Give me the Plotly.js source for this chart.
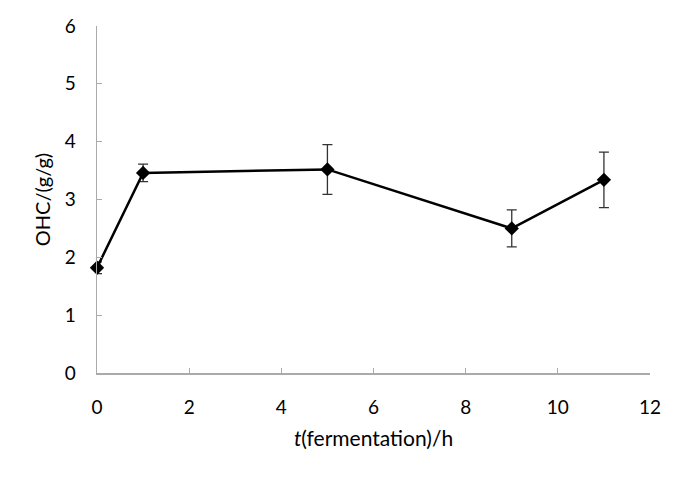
<!DOCTYPE html>
<html><head><meta charset="utf-8">
<script src="https://cdn.plot.ly/plotly-3.0.1.min.js"></script>
<style>html,body{margin:0;padding:0;background:#fff}#chart{width:687px;height:480px}</style>
</head><body><div id="chart"></div>
<script>
const timeH = [0, 1, 5, 9, 11];
const ohc = [1.82, 3.46, 3.52, 2.50, 3.34];
const ohcErr = [0.10, 0.15, 0.43, 0.32, 0.48];
const xTicks = [0, 2, 4, 6, 8, 10, 12];
const yTicks = [0, 1, 2, 3, 4, 5, 6];

const font = 'Lato, Noto Sans, sans-serif';
Plotly.newPlot('chart', [{
  x: timeH, y: ohc, type: 'scatter', mode: 'lines+markers',
  line: {color: '#000', width: 2.5},
  marker: {symbol: 'diamond', size: 11, color: '#000'},
  error_y: {type: 'data', array: ohcErr, visible: true, color: '#333', thickness: 1.3, width: 5},
  cliponaxis: false
}], {
  width: 687, height: 480,
  margin: {l: 97, r: 37, t: 26, b: 107},
  paper_bgcolor: '#fff', plot_bgcolor: '#fff',
  showlegend: false,
  xaxis: {range: [0, 12], tickvals: xTicks, ticks: 'inside', ticklen: 5, tickcolor: '#aaa',
    showline: true, linecolor: '#aaa', linewidth: 1.5, showgrid: false, zeroline: false,
    ticklabelstandoff: 17,
    tickfont: {family: font, size: 19, color: '#000'},
    title: {text: '<i>t</i>(fermentation)/h', font: {family: font, size: 21, color: '#000'}, standoff: 14}},
  yaxis: {range: [0, 6], tickvals: yTicks, ticks: 'inside', ticklen: 5, tickcolor: '#aaa',
    showline: true, linecolor: '#aaa', linewidth: 1.5, showgrid: false, zeroline: false,
    ticklabelstandoff: 16,
    tickfont: {family: font, size: 19, color: '#000'},
    title: {text: 'OHC/(g/g)', font: {family: font, size: 20, color: '#000'}, standoff: 8}}
}, {displayModeBar: false, staticPlot: true});
</script></body></html>
